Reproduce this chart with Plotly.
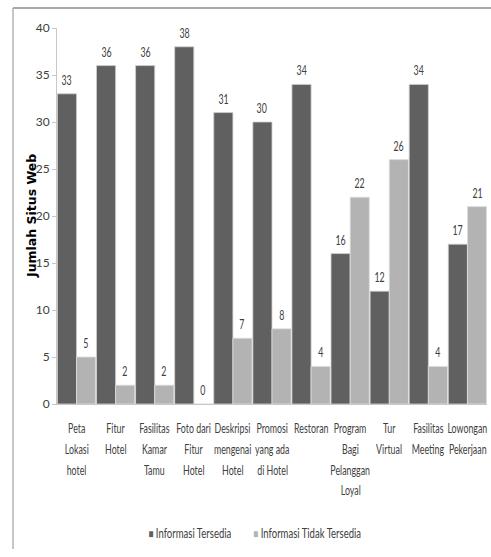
import plotly.graph_objects as go

# Data
categories = [
    "Peta<br>Lokasi<br>hotel",
    "Fitur<br>Hotel",
    "Fasilitas<br>Kamar<br>Tamu",
    "Foto dari<br>Fitur<br>Hotel",
    "Deskripsi<br>mengenai<br>Hotel",
    "Promosi<br>yang ada<br>di Hotel",
    "Restoran",
    "Program<br>Bagi<br>Pelanggan<br>Loyal",
    "Tur<br>Virtual",
    "Fasilitas<br>Meeting",
    "Lowongan<br>Pekerjaan",
]
series_names = ["Informasi Tersedia", "Informasi Tidak Tersedia"]
tersedia = [33, 36, 36, 38, 31, 30, 34, 16, 12, 34, 17]
tidak_tersedia = [5, 2, 2, 0, 7, 8, 4, 22, 26, 4, 21]
y_ticks = [0, 5, 10, 15, 20, 25, 30, 35, 40]

FONT = "Lato, Liberation Sans, sans-serif"
TXT = "#404040"
AXIS = "#c8c8c8"
DARK = "#606060"
LIGHT = "#b3b3b3"

W, H = 491, 557
ML, MR, MT, MB = 57, 4, 28, 153
PW, PH = W - ML - MR, H - MT - MB


def px_x(px):
    return (px - ML) / PW


def px_y(py):
    return (H - MB - py) / PH


x_idx = list(range(len(categories)))
BARGAP = 0.02
half = (1 - BARGAP) / 4  # offset of each bar centre within a group

fig = go.Figure()
fig.add_trace(go.Bar(
    x=x_idx, y=tersedia, name=series_names[0],
    marker=dict(color=DARK, line=dict(color="#d0d0d0", width=0.8)),
))
fig.add_trace(go.Bar(
    x=x_idx, y=tidak_tersedia, name=series_names[1],
    marker=dict(color=LIGHT, line=dict(color="#e0e0e0", width=0.8)),
))

annotations = []

# Value labels above bars
for vals, off in ((tersedia, -half), (tidak_tersedia, half)):
    for i, v in enumerate(vals):
        annotations.append(dict(
            x=i + off, xref="x", y=v, yref="y", text=str(v),
            showarrow=False, yanchor="bottom", xanchor="center", yshift=4,
            font=dict(family=FONT, size=13, color=TXT),
        ))

# Multi-line category labels under the axis
for i, lab in enumerate(categories):
    for j, line in enumerate(lab.split("<br>")):
        annotations.append(dict(
            x=i, xref="x", y=px_y(428), yref="paper", text=line,
            showarrow=False, yanchor="middle", xanchor="center",
            yshift=-20.8 * j,
            font=dict(family=FONT, size=13, color=TXT),
        ))

# Legend
for name, col, cx in ((series_names[0], DARK, 190), (series_names[1], LIGHT, 307)):
    annotations.append(dict(
        x=px_x(cx), xref="paper", y=px_y(532), yref="paper",
        text=f'<span style="color:{col};font-size:12px">■</span> {name}',
        showarrow=False, xanchor="center", yanchor="middle",
        font=dict(family=FONT, size=14, color=TXT),
    ))

# Axis title
annotations.append(dict(
    x=px_x(31), xref="paper", y=px_y(216), yref="paper",
    text="<b>Jumlah Situs Web</b>", textangle=-90, showarrow=False,
    xanchor="center", yanchor="middle",
    font=dict(family="DejaVu Sans, sans-serif", size=12.5, color="#000000"),
))

# Chart frame (top and left edges)
shapes = [
    dict(type="line", xref="paper", yref="paper",
         x0=px_x(13), x1=px_x(491), y0=px_y(8), y1=px_y(8),
         line=dict(color="#8c8c8c", width=1.5)),
    dict(type="line", xref="paper", yref="paper",
         x0=px_x(13), x1=px_x(13), y0=px_y(8), y1=px_y(549),
         line=dict(color="#a0a0a0", width=1.2)),
]

fig.update_layout(
    width=W, height=H,
    margin=dict(l=ML, r=MR, t=MT, b=MB),
    paper_bgcolor="white", plot_bgcolor="white",
    barmode="group", bargap=BARGAP, bargroupgap=0.0,
    showlegend=False,
    annotations=annotations,
    shapes=shapes,
    xaxis=dict(range=[-0.5, len(categories) - 0.5], showticklabels=False,
               showline=True, linecolor=AXIS, linewidth=1, ticks="",
               showgrid=False, zeroline=False, fixedrange=True),
    yaxis=dict(range=[0, 40], tickvals=y_ticks, showgrid=False,
               showline=True, linecolor=AXIS, linewidth=1,
               ticks="outside", ticklen=4, tickcolor=AXIS,
               zeroline=False,
               tickfont=dict(family=FONT, size=12, color=TXT)),
)

# Condensed look for the horizontal texts (narrow-width lettering)
condense_js = """
(function(){
  var gd = document.getElementById('{plot_id}');
  function squeeze(){
    gd.querySelectorAll('text.annotation-text').forEach(function(t){
      if ((t.textContent || '').indexOf('Jumlah') >= 0) return;
      t.style.transformBox = 'fill-box';
      t.style.transformOrigin = 'center';
      t.style.transform = 'scaleX(0.68)';
    });
  }
  squeeze();
  if (gd.on) gd.on('plotly_afterplot', squeeze);
  setTimeout(squeeze, 50);
})();
"""

fig.write_html("out.html", post_script=condense_js)
